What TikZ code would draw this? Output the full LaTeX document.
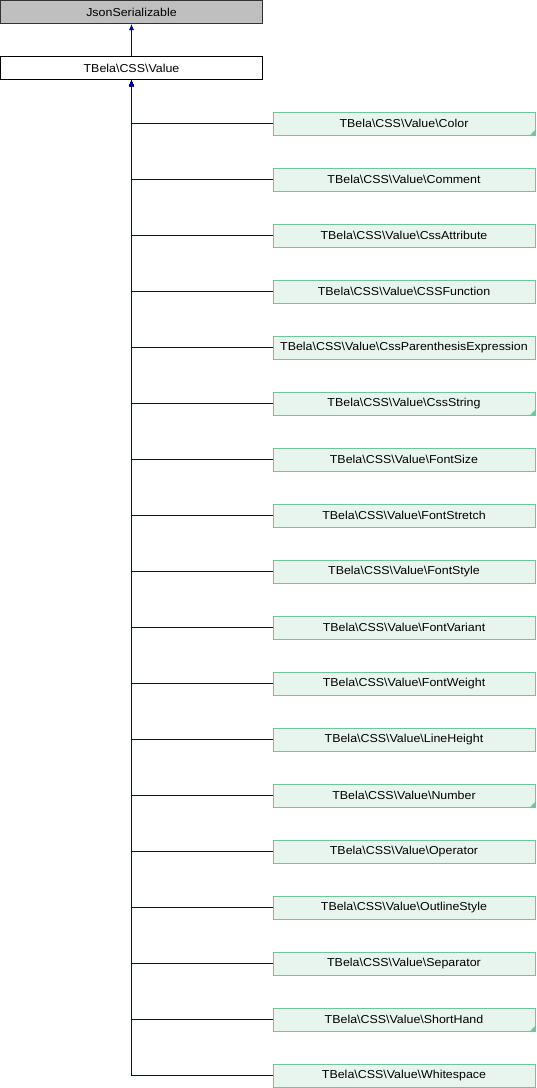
\documentclass[tikz,border=0pt]{standalone}
\usepackage{fontspec}
\setmainfont[FakeStretch=1.08]{Liberation Sans}
\usetikzlibrary{arrows.meta}
\definecolor{edgeblue}{RGB}{0,0,140}
\definecolor{childfill}{RGB}{232,245,238}
\definecolor{childdraw}{RGB}{110,200,150}
\definecolor{basefill}{RGB}{191,191,191}
\tikzset{
  classbox/.style={draw, line width=1pt, minimum width=262pt, minimum height=23pt, inner sep=0pt,
    font=\fontsize{11.5}{13}\selectfont, text=black},
  basebox/.style={classbox, fill=basefill, draw=black!80},
  mainbox/.style={classbox, fill=white, draw=black},
  childbox/.style={classbox, fill=childfill, draw=childdraw},
  edge/.style={draw=edgeblue, line width=1pt, -{Latex[length=6pt,width=5pt]}},
  cornermark/.style={fill=childdraw, draw=none}
}
\newcommand{\truncmark}[1]{\fill[cornermark] ([xshift=-6pt]#1.south east) -- (#1.south east) -- ([yshift=6pt]#1.south east) -- cycle;}
\begin{document}
\begin{tikzpicture}[x=1pt,y=-1pt]
\useasboundingbox (0,0) rectangle (536,1088);
\node[basebox] (json) at (131.5,12) {JsonSerializable};
\node[mainbox] (value) at (131.5,68) {TBela\textbackslash CSS\textbackslash Value};
\draw[edge] (value) -- (json);
\foreach \name [count=\i from 0] in {Color,Comment,CssAttribute,CSSFunction,CssParenthesisExpression,CssString,FontSize,FontStretch,FontStyle,FontVariant,FontWeight,LineHeight,Number,Operator,OutlineStyle,Separator,ShortHand,Whitespace}{
  \node[childbox] (c\i) at (404,{123.5+56*\i}) {TBela\textbackslash CSS\textbackslash Value\textbackslash \name};
  \draw[edge] (c\i.west) -| (value.south);
}
\truncmark{c0}
\truncmark{c5}
\truncmark{c12}
\truncmark{c16}
\end{tikzpicture}
\end{document}
